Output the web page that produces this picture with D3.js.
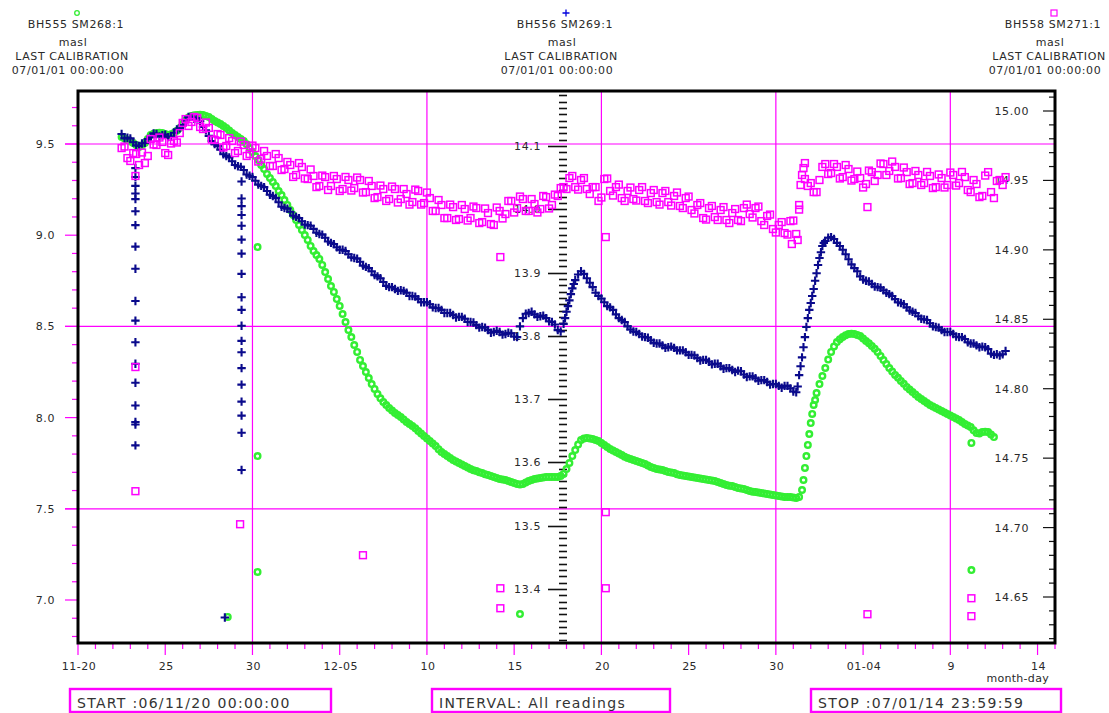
<!DOCTYPE html>
<html>
<head>
<meta charset="utf-8">
<script src="https://cdn.jsdelivr.net/npm/d3@7"></script>
<style>
  html, body { margin: 0; padding: 0; background: #fff; }
  svg { display: block; font-family: "DejaVu Sans", Verdana, sans-serif; }
</style>
</head>
<body>
<svg id="chart" width="1109" height="713"></svg>
<script>
// ---------------------------------------------------------------------------
// Readings: 4-hourly logger values, stored as two interleaved 8-hourly runs
// (from 2006-11-22 12:00 and 16:00), plus extra readings logged during rapid
// level changes and isolated spikes.
// ---------------------------------------------------------------------------
const readingsStart = "2006-11-22T12:00";
const readingsMidStart = "2006-11-22T16:00";
const readingStepHours = 8;

// BH555 SM268:1 (masl) - left axis
const bh555 = [
  9.538, 9.522, 9.505, 9.484, 9.505, 9.549, 9.560, 9.560, 9.549, 9.560,
  9.588, 9.632, 9.654, 9.659, 9.659, 9.648, 9.626, 9.610, 9.588, 9.560,
  9.538, 9.516, 9.478, 9.434, 9.385, 9.336, 9.292, 9.242, 9.193, 9.138,
  9.083, 9.029, 8.974, 8.913, 8.870, 8.798, 8.721, 8.650, 8.568, 8.480,
  8.398, 8.316, 8.250, 8.184, 8.129, 8.086, 8.053, 8.025, 8.003, 7.976,
  7.954, 7.927, 7.899, 7.872, 7.844, 7.811, 7.789, 7.768, 7.751, 7.735,
  7.718, 7.707, 7.696, 7.685, 7.674, 7.663, 7.658, 7.647, 7.636, 7.636,
  7.652, 7.663, 7.669, 7.674, 7.674, 7.674, 7.691, 7.751, 7.822, 7.877,
  7.888, 7.882, 7.872, 7.850, 7.828, 7.811, 7.795, 7.778, 7.768, 7.757,
  7.746, 7.729, 7.718, 7.713, 7.702, 7.696, 7.685, 7.680, 7.674, 7.669,
  7.663, 7.658, 7.652, 7.641, 7.630, 7.625, 7.614, 7.608, 7.597, 7.592,
  7.587, 7.581, 7.576, 7.570, 7.565, 7.565, 7.559, 7.603, 7.850, 8.069,
  8.184, 8.272, 8.360, 8.414, 8.442, 8.458, 8.458, 8.447, 8.420, 8.393,
  8.360, 8.316, 8.272, 8.234, 8.201, 8.168, 8.140, 8.113, 8.091, 8.069,
  8.053, 8.036, 8.020, 8.003, 7.987, 7.965, 7.949, 7.916, 7.921, 7.921,
  7.893
];
const bh555Mid = [
  9.530, 9.514, 9.494, 9.492, 9.528, 9.556, 9.561, 9.555, 9.553, 9.573,
  9.611, 9.645, 9.658, 9.660, 9.654, 9.637, 9.618, 9.599, 9.574, 9.549,
  9.527, 9.498, 9.456, 9.412, 9.363, 9.314, 9.270, 9.220, 9.166, 9.111,
  9.056, 9.001, 8.941, 8.891, 8.837, 8.760, 8.689, 8.612, 8.524, 8.442,
  8.360, 8.283, 8.217, 8.157, 8.106, 8.069, 8.039, 8.014, 7.990, 7.965,
  7.941, 7.913, 7.886, 7.858, 7.827, 7.800, 7.778, 7.760, 7.743, 7.726,
  7.712, 7.701, 7.690, 7.680, 7.669, 7.660, 7.652, 7.641, 7.633, 7.644,
  7.658, 7.666, 7.672, 7.674, 7.675, 7.680, 7.718, 7.789, 7.852, 7.886,
  7.886, 7.877, 7.861, 7.839, 7.819, 7.803, 7.786, 7.773, 7.762, 7.751,
  7.737, 7.724, 7.716, 7.707, 7.699, 7.690, 7.683, 7.677, 7.671, 7.666,
  7.660, 7.655, 7.647, 7.636, 7.627, 7.619, 7.611, 7.603, 7.594, 7.590,
  7.584, 7.578, 7.573, 7.568, 7.565, 7.562, 7.565, 7.724, 7.970, 8.135,
  8.228, 8.318, 8.390, 8.430, 8.451, 8.460, 8.453, 8.434, 8.407, 8.377,
  8.338, 8.294, 8.253, 8.218, 8.185, 8.154, 8.127, 8.102, 8.080, 8.061,
  8.045, 8.028, 8.012, 7.995, 7.976, 7.957, 7.930, 7.913, 7.922, 7.908
];
const bh555Extra = [
  ["2006-12-31T14:00", 7.658], ["2006-12-31T18:00", 7.789], ["2006-12-31T22:00", 7.910],
  ["2007-01-01T02:00", 8.020], ["2007-01-01T06:00", 8.096],
  ["2006-11-28T14:00", 6.907],
  ["2006-11-30T07:00", 8.935], ["2006-11-30T07:00", 7.789], ["2006-11-30T07:00", 7.154],
  ["2006-12-15T08:00", 6.923],
  ["2007-01-10T05:00", 7.164], ["2007-01-10T05:00", 7.861]
];

// BH556 SM269:1 (masl) - middle axis
const bh556 = [
  14.119, 14.113, 14.106, 14.100, 14.105, 14.114, 14.119, 14.117, 14.114, 14.121,
  14.128, 14.141, 14.146, 14.144, 14.130, 14.116, 14.103, 14.094, 14.084, 14.076,
  14.068, 14.062, 14.053, 14.045, 14.037, 14.029, 14.021, 14.011, 14.002, 13.996,
  13.988, 13.981, 13.975, 13.969, 13.961, 13.955, 13.947, 13.940, 13.936, 13.929,
  13.923, 13.917, 13.909, 13.902, 13.894, 13.885, 13.877, 13.874, 13.872, 13.868,
  13.863, 13.858, 13.853, 13.850, 13.844, 13.841, 13.836, 13.833, 13.830, 13.827,
  13.822, 13.817, 13.814, 13.809, 13.806, 13.806, 13.803, 13.804, 13.798, 13.828,
  13.836, 13.834, 13.831, 13.828, 13.822, 13.809, 13.819, 13.856, 13.888, 13.902,
  13.891, 13.877, 13.863, 13.853, 13.845, 13.834, 13.825, 13.815, 13.807, 13.803,
  13.798, 13.793, 13.788, 13.785, 13.782, 13.781, 13.777, 13.774, 13.770, 13.765,
  13.762, 13.759, 13.756, 13.752, 13.749, 13.746, 13.745, 13.739, 13.736, 13.733,
  13.730, 13.727, 13.724, 13.721, 13.721, 13.717, 13.711, 13.766, 13.828, 13.874,
  13.923, 13.950, 13.956, 13.947, 13.936, 13.921, 13.907, 13.894, 13.887, 13.882,
  13.877, 13.872, 13.866, 13.858, 13.852, 13.845, 13.838, 13.831, 13.826, 13.820,
  13.814, 13.809, 13.806, 13.803, 13.798, 13.795, 13.788, 13.785, 13.783, 13.779,
  13.770, 13.769, 13.776
];
const bh556Mid = [
  14.112, 14.112, 14.101, 14.104, 14.111, 14.120, 14.115, 14.118, 14.115, 14.126,
  14.133, 14.146, 14.143, 14.139, 14.125, 14.108, 14.100, 14.087, 14.082, 14.070,
  14.067, 14.055, 14.051, 14.039, 14.035, 14.023, 14.018, 14.004, 14.001, 13.990,
  13.986, 13.976, 13.974, 13.963, 13.960, 13.949, 13.945, 13.936, 13.934, 13.924,
  13.922, 13.911, 13.907, 13.896, 13.891, 13.879, 13.877, 13.871, 13.871, 13.863,
  13.862, 13.853, 13.853, 13.845, 13.844, 13.836, 13.836, 13.829, 13.830, 13.822,
  13.821, 13.813, 13.813, 13.805, 13.808, 13.802, 13.805, 13.799, 13.815, 13.835,
  13.838, 13.830, 13.832, 13.823, 13.818, 13.807, 13.838, 13.875, 13.897, 13.898,
  13.884, 13.868, 13.859, 13.847, 13.841, 13.828, 13.822, 13.810, 13.806, 13.799,
  13.797, 13.789, 13.788, 13.781, 13.783, 13.777, 13.777, 13.770, 13.769, 13.761,
  13.762, 13.755, 13.756, 13.748, 13.749, 13.743, 13.744, 13.735, 13.736, 13.729,
  13.730, 13.723, 13.724, 13.718, 13.721, 13.712, 13.738, 13.798, 13.852, 13.899,
  13.942, 13.955, 13.953, 13.942, 13.929, 13.913, 13.902, 13.889, 13.886, 13.878,
  13.876, 13.868, 13.863, 13.853, 13.850, 13.840, 13.836, 13.827, 13.825, 13.815,
  13.813, 13.806, 13.806, 13.799, 13.798, 13.790, 13.788, 13.782, 13.782, 13.772,
  13.771, 13.771
];
const bh556Extra = [
  ["2006-12-17T22:00", 13.828], ["2006-12-18T02:00", 13.847], ["2006-12-18T06:00", 13.866],
  ["2006-12-18T10:00", 13.882],
  ["2006-12-31T06:00", 13.720], ["2006-12-31T10:00", 13.752], ["2006-12-31T14:00", 13.782],
  ["2006-12-31T18:00", 13.814], ["2006-12-31T22:00", 13.841], ["2007-01-01T02:00", 13.863],
  ["2007-01-01T06:00", 13.887], ["2007-01-01T10:00", 13.912], ["2007-01-01T14:00", 13.932],
  ["2007-01-01T18:00", 13.947],
  ["2006-11-28T10:00", 13.355]
];
// two bursts of spurious readings (sensor disturbance)
const bh556Burst1Time = "2006-11-23T07:00";
const bh556Burst1 = [
  14.065, 14.051, 14.037, 14.025, 14.016, 13.997, 13.975, 13.941, 13.906, 13.855,
  13.824, 13.790, 13.756, 13.726, 13.690, 13.664, 13.660, 13.627
];
const bh556Burst2Time = "2006-11-29T09:00";
const bh556Burst2 = [
  14.044, 14.017, 14.005, 13.991, 13.974, 13.952, 13.930, 13.898, 13.861, 13.841,
  13.816, 13.792, 13.774, 13.749, 13.723, 13.696, 13.674, 13.647, 13.588
];

// BH558 SM271:1 (masl) - right axis
const bh558 = [
  14.9733, 14.9661, 14.9697, 14.9611, 14.9625, 14.9798, 14.9755, 14.9777, 14.9683, 14.9784,
  14.9841, 14.9942, 14.9921, 14.9950, 14.9870, 14.9878, 14.9791, 14.9827, 14.9748, 14.9784,
  14.9712, 14.9755, 14.9690, 14.9733, 14.9654, 14.9676, 14.9604, 14.9661, 14.9582, 14.9611,
  14.9539, 14.9597, 14.9510, 14.9532, 14.9460, 14.9524, 14.9460, 14.9510, 14.9438, 14.9503,
  14.9445, 14.9503, 14.9416, 14.9460, 14.9380, 14.9438, 14.9366, 14.9438, 14.9366, 14.9402,
  14.9344, 14.9424, 14.9337, 14.9373, 14.9280, 14.9323, 14.9229, 14.9308, 14.9222, 14.9294,
  14.9229, 14.9301, 14.9200, 14.9265, 14.9179, 14.9280, 14.9258, 14.9352, 14.9301, 14.9366,
  14.9280, 14.9330, 14.9294, 14.9380, 14.9323, 14.9388, 14.9452, 14.9517, 14.9452, 14.9503,
  14.9438, 14.9452, 14.9352, 14.9510, 14.9424, 14.9452, 14.9373, 14.9424, 14.9366, 14.9431,
  14.9352, 14.9409, 14.9344, 14.9409, 14.9344, 14.9388, 14.9316, 14.9373, 14.9287, 14.9323,
  14.9229, 14.9301, 14.9236, 14.9287, 14.9215, 14.9265, 14.9215, 14.9301, 14.9258, 14.9301,
  14.9207, 14.9244, 14.9150, 14.9179, 14.9121, 14.9207, 14.9114, 14.9539, 14.9460, 14.9416,
  14.9503, 14.9618, 14.9553, 14.9597, 14.9524, 14.9582, 14.9510, 14.9517, 14.9474, 14.9560,
  14.9539, 14.9618, 14.9568, 14.9597, 14.9517, 14.9560, 14.9481, 14.9539, 14.9481, 14.9532,
  14.9452, 14.9517, 14.9467, 14.9539, 14.9481, 14.9524, 14.9416, 14.9474, 14.9388, 14.9560,
  14.9373, 14.9503, 14.9524
];
const bh558Mid = [
  14.9744, 14.9640, 14.9690, 14.9701, 14.9676, 14.9759, 14.9809, 14.9697, 14.9766, 14.9773,
  14.9914, 14.9892, 14.9957, 14.9885, 14.9917, 14.9795, 14.9834, 14.9737, 14.9805, 14.9697,
  14.9780, 14.9676, 14.9751, 14.9636, 14.9712, 14.9604, 14.9690, 14.9575, 14.9633, 14.9525,
  14.9625, 14.9514, 14.9579, 14.9452, 14.9535, 14.9431, 14.9532, 14.9424, 14.9525, 14.9427,
  14.9521, 14.9413, 14.9496, 14.9373, 14.9463, 14.9352, 14.9456, 14.9341, 14.9438, 14.9326,
  14.9434, 14.9326, 14.9413, 14.9280, 14.9359, 14.9229, 14.9326, 14.9215, 14.9323, 14.9211,
  14.9312, 14.9193, 14.9298, 14.9186, 14.9305, 14.9226, 14.9352, 14.9269, 14.9384, 14.9280,
  14.9366, 14.9269, 14.9388, 14.9298, 14.9398, 14.9445, 14.9438, 14.9532, 14.9434, 14.9517,
  14.9402, 14.9452, 14.9377, 14.9514, 14.9391, 14.9470, 14.9352, 14.9449, 14.9355, 14.9452,
  14.9337, 14.9431, 14.9326, 14.9424, 14.9319, 14.9413, 14.9301, 14.9384, 14.9262, 14.9337,
  14.9218, 14.9316, 14.9215, 14.9308, 14.9193, 14.9294, 14.9207, 14.9326, 14.9233, 14.9312,
  14.9179, 14.9254, 14.9125, 14.9200, 14.9110, 14.9211, 14.9290, 14.9510, 14.9481, 14.9416,
  14.9597, 14.9546, 14.9618, 14.9514, 14.9611, 14.9499, 14.9564, 14.9449, 14.9571, 14.9496,
  14.9622, 14.9539, 14.9636, 14.9514, 14.9593, 14.9474, 14.9568, 14.9467, 14.9561, 14.9445,
  14.9543, 14.9449, 14.9557, 14.9463, 14.9561, 14.9431, 14.9503, 14.9380, 14.9535, 14.9416,
  14.9496, 14.9467
];
const bh558Extra = [
  ["2006-12-30T22:00", 14.9042], ["2006-12-31T06:00", 14.9071], ["2006-12-31T08:00", 14.9323],
  ["2006-12-31T10:00", 14.9467], ["2006-12-31T14:00", 14.9589], ["2006-12-31T16:00", 14.9625],
  ["2006-11-23T07:00", 14.9532], ["2006-11-23T07:00", 14.8156], ["2006-11-23T07:00", 14.7262],
  ["2006-11-29T07:00", 14.7024],
  ["2006-12-06T08:00", 14.6801],
  ["2006-12-14T05:00", 14.8948], ["2006-12-14T05:00", 14.6563], ["2006-12-14T05:00", 14.6419],
  ["2006-12-20T06:00", 14.9092], ["2006-12-20T06:00", 14.7111], ["2006-12-20T06:00", 14.6563],
  ["2007-01-04T06:00", 14.9308], ["2007-01-04T06:00", 14.6376],
  ["2007-01-10T05:00", 14.6491], ["2007-01-10T05:00", 14.6362]
];

// Axis tick values and labels
const leftTicks = [7.0, 7.5, 8.0, 8.5, 9.0, 9.5];
const leftGrid = [7.5, 8.5, 9.5];
const midTicks = [13.4, 13.5, 13.6, 13.7, 13.8, 13.9, 14.0, 14.1];
const rightTicks = [14.65, 14.70, 14.75, 14.80, 14.85, 14.90, 14.95, 15.00];
const dayLabels = ["11-20", "25", "30", "12-05", "10", "15", "20", "25", "30", "01-04", "9", "14"];
const gridDayOffsets = [10, 20, 30, 40, 50];

const headers = [
  { name: "BH555 SM268:1", unit: "masl", cal: "LAST CALIBRATION", date: "07/01/01 00:00:00", marker: "circle" },
  { name: "BH556 SM269:1", unit: "masl", cal: "LAST CALIBRATION", date: "07/01/01 00:00:00", marker: "plus" },
  { name: "BH558 SM271:1", unit: "masl", cal: "LAST CALIBRATION", date: "07/01/01 00:00:00", marker: "square" }
];
const footers = ["START :06/11/20 00:00:00", "INTERVAL: All readings", "STOP :07/01/14 23:59:59"];

// ---------------------------------------------------------------------------
// Layout and scales
// ---------------------------------------------------------------------------
const W = 1109, H = 713;
const plot = { left: 78, right: 1055, top: 91, bottom: 643 };
const midAxisX = 563;
const MAG = "#ff00ff", GREEN = "#33ee33", NAVY = "#0a0a8c", TXT = "#2a2a2a";

const parse = d3.timeParse("%Y-%m-%dT%H:%M");
const t0 = new Date(2006, 10, 20, 0, 0, 0);
const t1 = new Date(2007, 0, 14, 23, 59, 59);

const x = d3.scaleTime().domain([t0, t1]).range([plot.left, plot.right]);
const yLeft = d3.scaleLinear().domain([7.0, 9.5]).range([600, 144]);
const yMid = d3.scaleLinear().domain([13.4, 14.1]).range([589, 146]);
const yRight = d3.scaleLinear().domain([14.65, 15.0]).range([597, 111]);

function regular(startStr, values) {
  const s = parse(startStr);
  return values.map((v, i) => ({ t: d3.timeHour.offset(s, i * readingStepHours), v }));
}
const pairs = arr => arr.map(([t, v]) => ({ t: parse(t), v }));
const burst = (tStr, values) => values.map(v => ({ t: parse(tStr), v }));

const greenPts = regular(readingsStart, bh555).concat(regular(readingsMidStart, bh555Mid), pairs(bh555Extra));
const bluePts = regular(readingsStart, bh556).concat(regular(readingsMidStart, bh556Mid), pairs(bh556Extra),
  burst(bh556Burst1Time, bh556Burst1), burst(bh556Burst2Time, bh556Burst2));
const magPts = regular(readingsStart, bh558).concat(regular(readingsMidStart, bh558Mid), pairs(bh558Extra));

const svg = d3.select("#chart");
svg.append("rect").attr("width", W).attr("height", H).attr("fill", "#fff");

svg.append("clipPath").attr("id", "plotclip").append("rect")
  .attr("x", plot.left).attr("y", plot.top)
  .attr("width", plot.right - plot.left).attr("height", plot.bottom - plot.top);

// ---------------------------------------------------------------------------
// Grid lines
// ---------------------------------------------------------------------------
const grid = svg.append("g").attr("stroke", MAG).attr("stroke-width", 1.2);
grid.selectAll("line.h").data(leftGrid).join("line")
  .attr("x1", plot.left - 13).attr("x2", plot.right)
  .attr("y1", d => yLeft(d)).attr("y2", d => yLeft(d));
grid.selectAll("line.v").data(gridDayOffsets).join("line")
  .attr("x1", d => x(d3.timeDay.offset(t0, d))).attr("x2", d => x(d3.timeDay.offset(t0, d)))
  .attr("y1", plot.top).attr("y2", plot.bottom);

// ---------------------------------------------------------------------------
// Left axis (BH555)
// ---------------------------------------------------------------------------
const leftMinor = d3.range(68, 98).map(v => v / 10);
svg.append("g").attr("stroke", MAG).attr("stroke-width", 1.2)
  .selectAll("line").data(leftMinor).join("line")
  .attr("x1", d => plot.left - (Math.abs(d * 2 - Math.round(d * 2)) < 1e-6 ? 13 : 6))
  .attr("x2", plot.left)
  .attr("y1", d => yLeft(d)).attr("y2", d => yLeft(d));
svg.append("g").selectAll("text").data(leftTicks).join("text")
  .attr("x", 55).attr("y", d => yLeft(d)).attr("dy", "0.36em")
  .attr("text-anchor", "end").attr("font-size", 11).attr("letter-spacing", 0.6)
  .attr("fill", TXT).text(d => d3.format(".1f")(d));

// ---------------------------------------------------------------------------
// Middle axis (BH556)
// ---------------------------------------------------------------------------
const midMinor = d3.range(1332, 1419).map(v => v / 100);
svg.append("g").attr("stroke", "#111").attr("stroke-width", 1.6)
  .selectAll("line").data(midMinor).join("line")
  .attr("x1", d => midAxisX - (Math.round(d * 100) % 10 === 0 ? 15 : 4))
  .attr("x2", midAxisX + 4)
  .attr("y1", d => Math.round(yMid(d)) + 0.5).attr("y2", d => Math.round(yMid(d)) + 0.5);
svg.append("g").selectAll("text").data(midTicks).join("text")
  .attr("x", 541).attr("y", d => yMid(d)).attr("dy", "0.36em")
  .attr("text-anchor", "end").attr("font-size", 11).attr("letter-spacing", 0.6)
  .attr("fill", TXT).text(d => d3.format(".1f")(d));

// ---------------------------------------------------------------------------
// Right axis (BH558)
// ---------------------------------------------------------------------------
const rightMinor = d3.range(1462, 1502).map(v => v / 100);
svg.append("g").attr("stroke", "#111").attr("stroke-width", 1.2)
  .selectAll("line").data(rightMinor).join("line")
  .attr("x1", d => plot.right - (Math.round(d * 100) % 5 === 0 ? 12 : 6))
  .attr("x2", plot.right)
  .attr("y1", d => yRight(d)).attr("y2", d => yRight(d));
svg.append("g").selectAll("text").data(rightTicks).join("text")
  .attr("x", 1029).attr("y", d => yRight(d)).attr("dy", "0.36em")
  .attr("text-anchor", "end").attr("font-size", 11).attr("letter-spacing", 0.6)
  .attr("fill", TXT).text(d => d3.format(".2f")(d));

// ---------------------------------------------------------------------------
// Time axis
// ---------------------------------------------------------------------------
const days = d3.range(0, 57);
svg.append("g").attr("stroke", MAG).attr("stroke-width", 1.2)
  .selectAll("line").data(days).join("line")
  .attr("x1", d => x(d3.timeDay.offset(t0, d))).attr("x2", d => x(d3.timeDay.offset(t0, d)))
  .attr("y1", plot.bottom).attr("y2", d => plot.bottom + (d % 5 === 0 ? 12 : 6));
svg.append("g").selectAll("text").data(dayLabels).join("text")
  .attr("x", (d, i) => x(d3.timeDay.offset(t0, i * 5)) + 1)
  .attr("y", 670).attr("text-anchor", "middle")
  .attr("font-size", 11).attr("letter-spacing", 0.5).attr("fill", TXT).text(d => d);
svg.append("text").attr("x", 1049).attr("y", 682).attr("text-anchor", "end")
  .attr("font-size", 11).attr("letter-spacing", 0.3).attr("fill", TXT).text("month-day");

// ---------------------------------------------------------------------------
// Data markers
// ---------------------------------------------------------------------------
const data = svg.append("g").attr("clip-path", "url(#plotclip)");

data.append("g").selectAll("circle").data(greenPts).join("circle")
  .attr("cx", d => x(d.t)).attr("cy", d => yLeft(d.v)).attr("r", 2.8)
  .attr("fill", "none").attr("stroke", GREEN).attr("stroke-width", 2.4);

data.append("g").selectAll("path").data(bluePts).join("path")
  .attr("transform", d => `translate(${x(d.t)},${yMid(d.v)})`)
  .attr("d", "M-4.2,0H4.2M0,-4.2V4.2")
  .attr("stroke", NAVY).attr("stroke-width", 2.1).attr("fill", "none");

data.append("g").selectAll("rect").data(magPts).join("rect")
  .attr("x", d => x(d.t) - 3.4).attr("y", d => yRight(d.v) - 3.4)
  .attr("width", 6.8).attr("height", 6.8)
  .attr("fill", "none").attr("stroke", MAG).attr("stroke-width", 1.5);

// Plot frame
svg.append("rect")
  .attr("x", plot.left).attr("y", plot.top)
  .attr("width", plot.right - plot.left).attr("height", plot.bottom - plot.top)
  .attr("fill", "none").attr("stroke", "#000").attr("stroke-width", 3);

// ---------------------------------------------------------------------------
// Series headers
// ---------------------------------------------------------------------------
const headerX = [77, 566, 1054];
headers.forEach((h, i) => {
  const cx = headerX[i];
  const g = svg.append("g").attr("fill", TXT).attr("font-size", 11)
    .attr("letter-spacing", 0.6).attr("text-anchor", "middle");
  if (h.marker === "circle") {
    g.append("circle").attr("cx", cx).attr("cy", 13).attr("r", 2.3)
      .attr("fill", "none").attr("stroke", GREEN).attr("stroke-width", 1.3);
  } else if (h.marker === "plus") {
    g.append("path").attr("d", `M${cx - 3.5},13H${cx + 3.5}M${cx},9.5V16.5`)
      .attr("stroke", "#0000dd").attr("stroke-width", 1.3);
  } else {
    g.append("rect").attr("x", cx - 3).attr("y", 10).attr("width", 6).attr("height", 6)
      .attr("fill", "none").attr("stroke", MAG).attr("stroke-width", 1.2);
  }
  g.append("text").attr("x", cx - 1).attr("y", 28).text(h.name);
  g.append("text").attr("x", cx - 4).attr("y", 45.5).text(h.unit);
  g.append("text").attr("x", cx - 5).attr("y", 60).text(h.cal);
  g.append("text").attr("x", cx - 9).attr("y", 73.5).text(h.date);
});

// ---------------------------------------------------------------------------
// Footer boxes
// ---------------------------------------------------------------------------
const footerBoxes = [[70, 331], [432, 670], [811, 1061]];
footers.forEach((f, i) => {
  const [a, b] = footerBoxes[i];
  svg.append("rect").attr("x", a).attr("y", 689).attr("width", b - a).attr("height", 23)
    .attr("fill", "none").attr("stroke", MAG).attr("stroke-width", 2.4);
  svg.append("text").attr("x", a + 7).attr("y", 708)
    .attr("font-size", 14).attr("letter-spacing", 1.3).attr("fill", "#333").text(f);
});
</script>
</body>
</html>
